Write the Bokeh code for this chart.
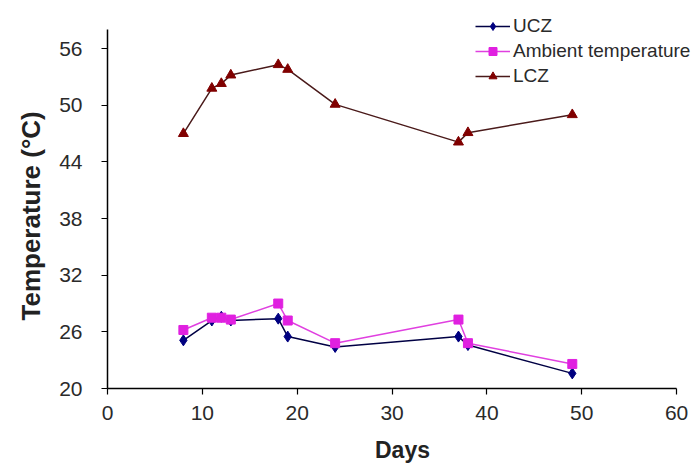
from bokeh.plotting import figure
from bokeh.models import Legend, LegendItem, FixedTicker, Range1d, Title
from bokeh.embed import file_html
from bokeh.resources import INLINE

days = [8, 11, 12, 13, 18, 19, 24, 37, 38, 49]
ucz = [25.1, 27.2, 27.6, 27.2, 27.4, 25.5, 24.4, 25.5, 24.6, 21.6]
ambient = [26.2, 27.5, 27.5, 27.3, 29.0, 27.2, 24.8, 27.3, 24.8, 22.6]
lcz = [47.0, 51.8, 52.3, 53.2, 54.3, 53.8, 50.1, 46.1, 47.1, 49.0]
y_ticks = [20, 26, 32, 38, 44, 50, 56]
x_ticks = [0, 10, 20, 30, 40, 50, 60]

FONT = "Liberation Sans"

p = figure(width=697, height=466, output_backend="svg", toolbar_location=None,
           x_range=Range1d(0, 62.2), y_range=Range1d(20, 61.1),
           min_border_left=107, min_border_right=0, min_border_top=0, min_border_bottom=78)
p.outline_line_color = None
p.xgrid.grid_line_color = None
p.ygrid.grid_line_color = None
p.background_fill_color = "white"
p.border_fill_color = "white"

for ax in (p.xaxis[0], p.yaxis[0]):
    ax.axis_line_color = "black"
    ax.axis_line_width = 1.5
    ax.major_tick_line_color = "black"
    ax.major_tick_line_width = 1.2
    ax.major_tick_out = 6
    ax.major_tick_in = 0
    ax.minor_tick_line_color = None
    ax.major_label_text_font = FONT
    ax.major_label_text_font_size = "21px"
    ax.major_label_text_color = "#2a2a2a"
    ax.axis_label_text_font = FONT
    ax.axis_label_text_font_style = "bold"
    ax.axis_label_text_color = "#222222"

p.xaxis.bounds = (0, 60)
p.yaxis.bounds = (20, 58)
p.xaxis.ticker = FixedTicker(ticks=x_ticks)
p.yaxis.ticker = FixedTicker(ticks=y_ticks)
p.xaxis.axis_label = "Days"
p.xaxis.axis_label_text_font_size = "23px"
p.xaxis.major_label_standoff = 11
p.yaxis.major_label_standoff = 19
p.xaxis.axis_label_standoff = 14

ytitle = Title(text="Temperature (°C)", align="left", offset=68, standoff=21,
               text_font=FONT, text_font_size="26px", text_font_style="bold",
               text_color="#222222")
p.add_layout(ytitle, "left")

l1 = p.line(days, ucz, line_color="#000044", line_width=1.5)
m1 = p.scatter(days, ucz, marker="diamond", size=11, fill_color="#000080", line_color="#000080")
l2 = p.line(days, ambient, line_color="#E040E0", line_width=1.5)
m2 = p.scatter(days, ambient, marker="square", size=9, fill_color="#E020E0", line_color="#E020E0")
l3 = p.line(days, lcz, line_color="#4A1A1A", line_width=1.5)
m3 = p.scatter(days, lcz, marker="triangle", size=10, fill_color="#800000", line_color="#800000")

legend = Legend(items=[
    LegendItem(label="UCZ", renderers=[l1, m1]),
    LegendItem(label="Ambient temperature", renderers=[l2, m2]),
    LegendItem(label="LCZ", renderers=[l3, m3]),
], location=(368, 301))
legend.border_line_color = None
legend.background_fill_alpha = 0
legend.padding = 0
legend.margin = 0
legend.spacing = 3
legend.glyph_width = 35
legend.glyph_height = 20
legend.label_height = 20
legend.label_standoff = 3
legend.label_text_font = FONT
legend.label_text_font_size = "19px"
legend.label_text_color = "#2a2a2a"
p.add_layout(legend, "center")

open("out.html", "w").write(file_html(p, INLINE))
